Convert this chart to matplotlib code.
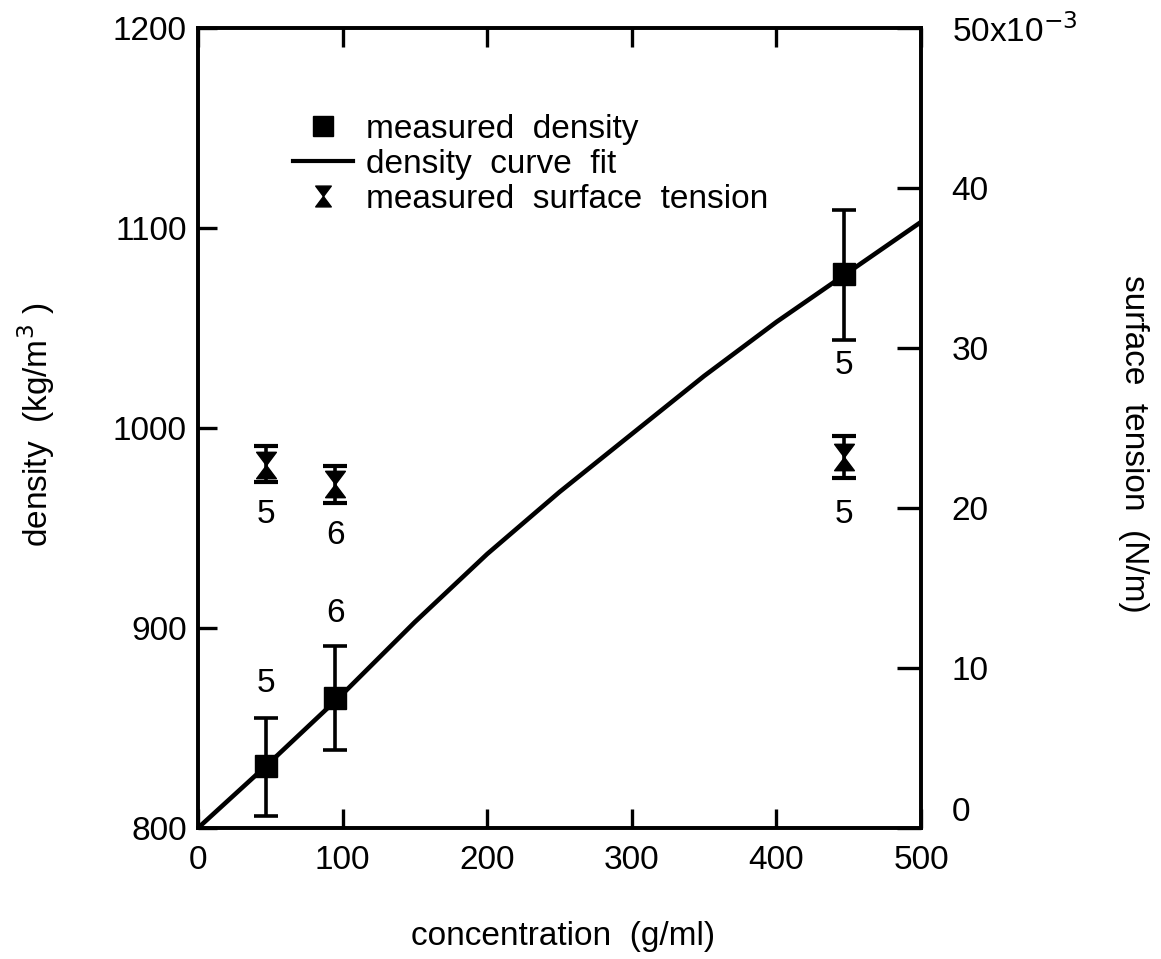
import matplotlib
matplotlib.use('Agg')
import matplotlib.pyplot as plt
from matplotlib.path import Path
from matplotlib.lines import Line2D
import numpy as np

plt.rcParams['font.family'] = ['Liberation Sans', 'DejaVu Sans']

# measured density (kg/m^3)
dens_x = [47, 95, 447]
dens_y = [831, 865, 1077]
dens_lo = [806, 839, 1044]
dens_hi = [855, 891, 1109]
dens_n = ['5', '6', '5']
dens_n_y = [872, 907, 1031]

# density curve fit
fit_x = [0, 50, 100, 150, 200, 250, 300, 350, 400, 450, 500]
fit_y = [800, 833, 867, 903, 937, 968, 997, 1026, 1053, 1078, 1103]

# measured surface tension (N/m)
st_x = [47, 95, 447]
st_y = [0.0227, 0.0215, 0.0232]
st_lo = [0.0216, 0.0203, 0.0219]
st_hi = [0.0239, 0.0226, 0.0245]
st_n = ['5', '6', '5']
st_n_y = [0.0196, 0.0183, 0.0196]

FS = 24

hourglass = Path([(-0.75, 1), (0.75, 1), (-0.75, -1), (0.75, -1), (-0.75, 1)],
                 [Path.MOVETO, Path.LINETO, Path.LINETO, Path.LINETO, Path.CLOSEPOLY])

fig = plt.figure(figsize=(11.61, 9.59), dpi=100)
ax = fig.add_axes([198 / 1161, 1 - 828 / 959, 723 / 1161, 800 / 959])
ax2 = ax.twinx()

ax.plot(fit_x, fit_y, color='black', lw=3.3, solid_capstyle='round')
ax.errorbar(dens_x, dens_y,
            yerr=[np.subtract(dens_y, dens_lo), np.subtract(dens_hi, dens_y)],
            fmt='s', color='black', ms=16, elinewidth=2.6, capsize=8.5, capthick=2.6)
ax2.errorbar(st_x, st_y,
             yerr=[np.subtract(st_y, st_lo), np.subtract(st_hi, st_y)],
             fmt='none', ecolor='black', elinewidth=2.6, capsize=8.5, capthick=3)
ax2.plot(st_x, st_y, linestyle='none', marker=hourglass, color='black', ms=19)

# sample counts
for x, y, n in zip(dens_x, dens_n_y, dens_n):
    ax.text(x, y, n, ha='center', va='center', fontsize=FS)
for x, y, n in zip(st_x, st_n_y, st_n):
    ax2.text(x, y, n, ha='center', va='center', fontsize=FS)

ax.set_xlim(0, 500)
ax.set_ylim(800, 1200)
ax2.set_ylim(0, 0.05)
ax.set_xticks([0, 100, 200, 300, 400, 500])
ax.set_yticks([800, 900, 1000, 1100, 1200])
ax2.set_yticks([0, 0.01, 0.02, 0.03, 0.04, 0.05])
ax2.set_yticklabels(['0', '10', '20', '30', '40', '50x10$^{-3}$'])

for a in (ax, ax2):
    for s in a.spines.values():
        s.set_linewidth(2.6)
ax.tick_params(axis='both', direction='in', length=14, width=2.4, labelsize=FS, top=True)
ax.tick_params(axis='y', pad=8)
ax.tick_params(axis='x', pad=12)
ax2.tick_params(axis='y', direction='in', length=17, width=2.4, labelsize=FS, pad=22)
ax2.yaxis.get_major_ticks()[0].label2.set_verticalalignment('bottom')

fig.text(0.485, 0.023, 'concentration  (g/ml)', fontsize=FS, ha='center', va='center')
fig.text(0.031, 0.557, 'density  (kg/m$^3$ )', fontsize=FS, ha='center', va='center',
         rotation=90)
fig.text(0.976, 0.537, 'surface  tension  (N/m)', fontsize=FS, ha='center', va='center',
         rotation=270)

handles = [
    Line2D([], [], linestyle='none', marker='s', color='black', ms=15),
    Line2D([], [], color='black', lw=3),
    Line2D([], [], linestyle='none', marker=hourglass, color='black', ms=15),
]
labels = ['measured  density', 'density  curve  fit', 'measured  surface  tension']
ax.legend(handles, labels, loc='upper left', bbox_to_anchor=(0.131, 0.893),
          frameon=False, fontsize=FS, handlelength=1.8, handletextpad=0.4,
          labelspacing=0.12, borderpad=0, borderaxespad=0)

fig.savefig('out.png', dpi=100)
